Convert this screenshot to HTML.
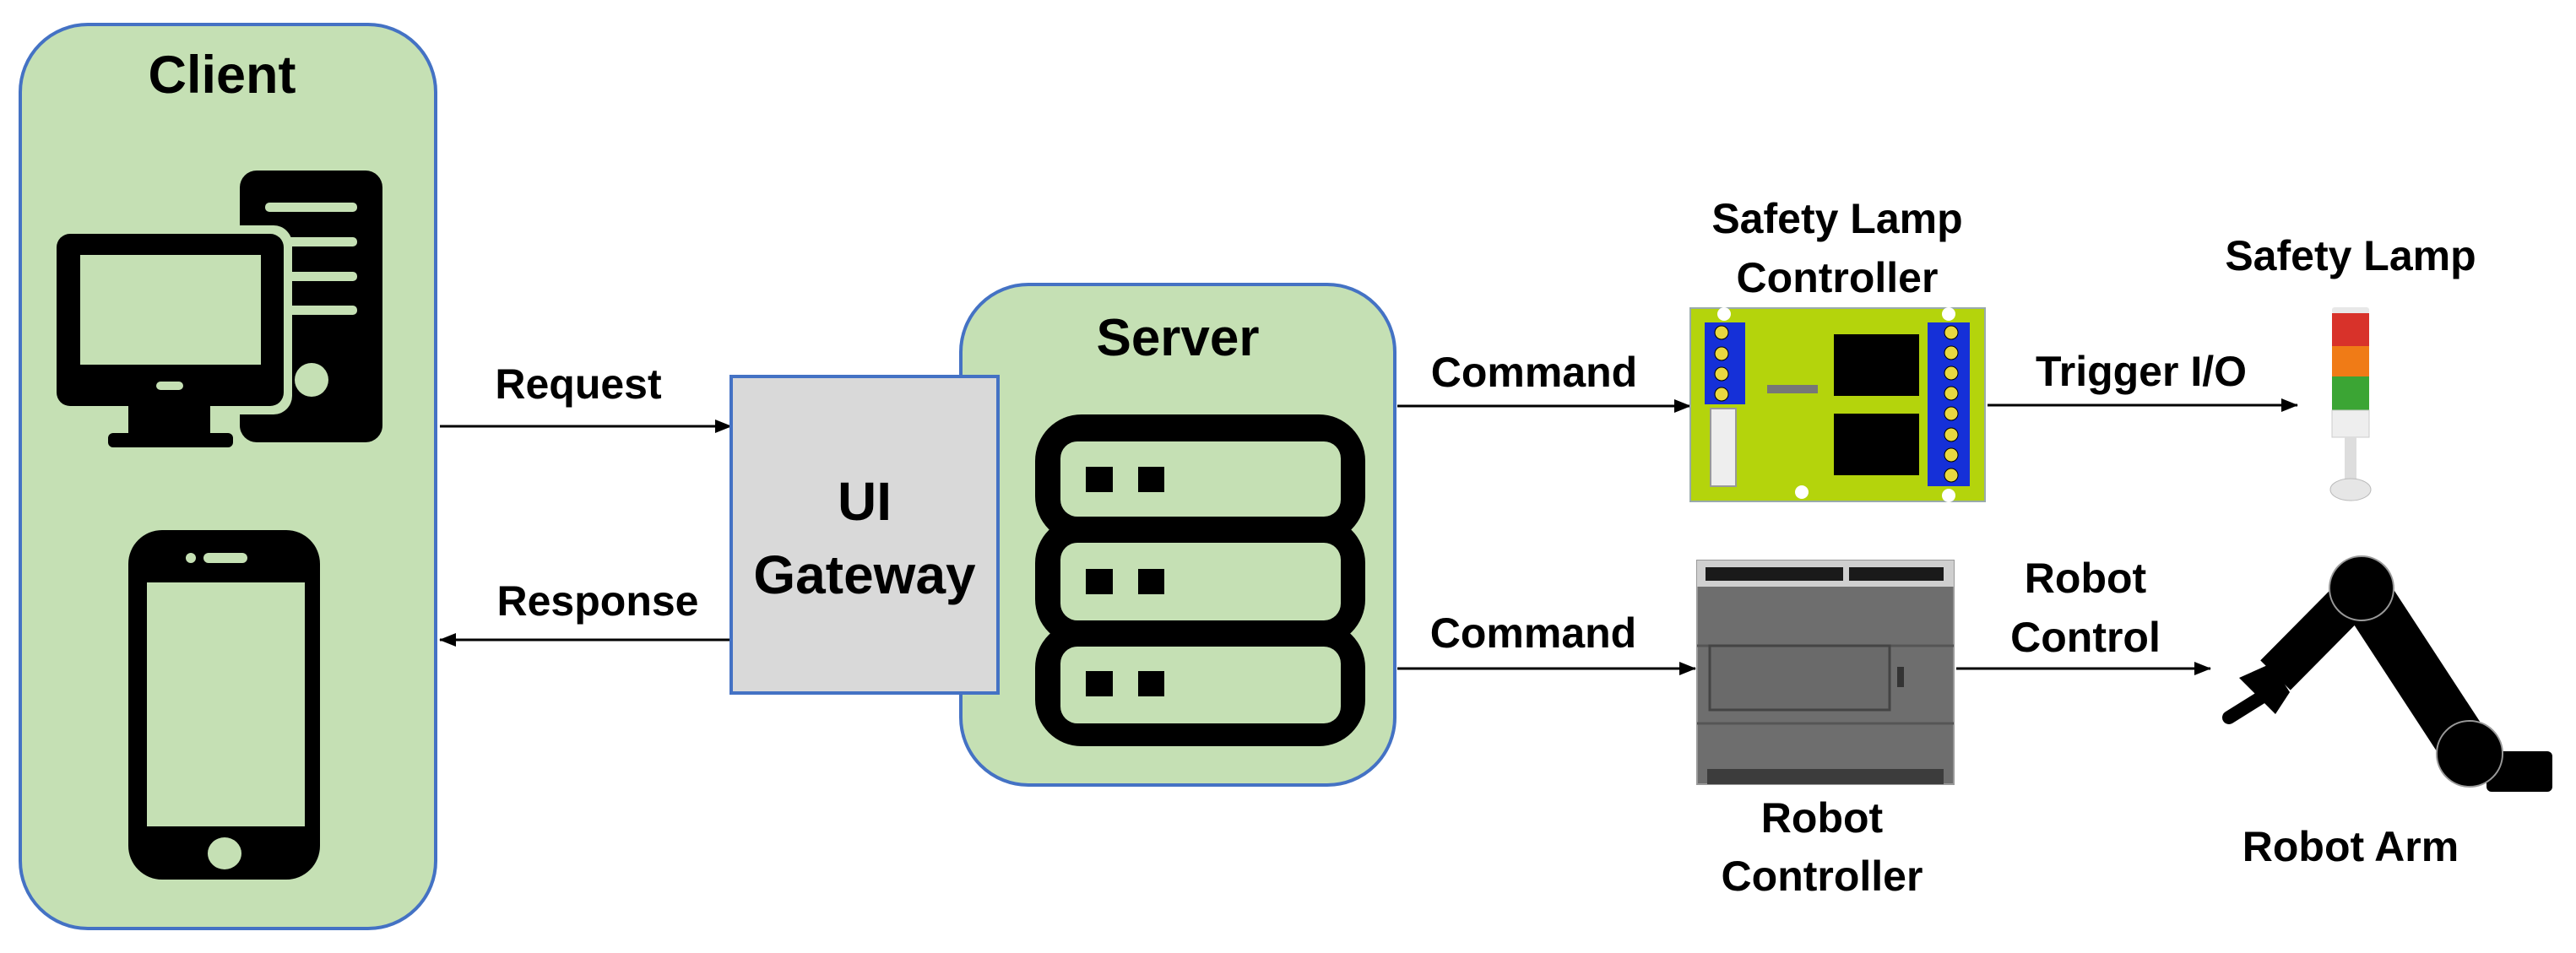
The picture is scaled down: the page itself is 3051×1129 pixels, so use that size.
<!DOCTYPE html>
<html><head><meta charset="utf-8"><style>
html,body{margin:0;padding:0;background:#fff;}
svg{display:block;}
text{font-family:"Liberation Sans",sans-serif;font-weight:bold;fill:#000;}
</style></head><body>
<svg width="3051" height="1129" viewBox="0 0 3051 1129" xmlns="http://www.w3.org/2000/svg">
<defs>
<marker id="ah2" markerWidth="20" markerHeight="20" refX="19" refY="8" orient="auto" markerUnits="userSpaceOnUse">
<path d="M0,0 L20,8 L0,16 Z" fill="#000"/></marker>
</defs>

<!-- Client -->
<rect x="24" y="29" width="492" height="1071" rx="80" fill="#c5e0b4" stroke="#4472c4" stroke-width="4"/>
<text x="263" y="110" font-size="63" text-anchor="middle">Client</text>
<!-- tower -->
<rect x="284" y="202" width="169" height="322" rx="20" fill="#000"/>
<rect x="314" y="240" width="109" height="11" rx="5" fill="#c5e0b4"/>
<rect x="314" y="281" width="109" height="11" rx="5" fill="#c5e0b4"/>
<rect x="314" y="322" width="109" height="11" rx="5" fill="#c5e0b4"/>
<rect x="314" y="362" width="109" height="11" rx="5" fill="#c5e0b4"/>
<ellipse cx="369" cy="450" rx="20" ry="20" fill="#c5e0b4"/>
<!-- monitor -->
<rect x="57" y="267" width="289" height="224" rx="22" fill="#c5e0b4"/>
<rect x="67" y="277" width="269" height="204" rx="16" fill="#000"/>
<rect x="95" y="302" width="214" height="130" fill="#c5e0b4"/>
<rect x="185" y="452" width="32" height="10" rx="5" fill="#c5e0b4"/>
<rect x="152" y="481" width="97" height="34" fill="#000"/>
<rect x="128" y="513" width="148" height="17" rx="6" fill="#000"/>
<!-- phone -->
<rect x="152" y="628" width="227" height="414" rx="40" fill="#000"/>
<rect x="174" y="690" width="187" height="289" fill="#c5e0b4"/>
<rect x="241" y="655" width="52" height="12" rx="6" fill="#c5e0b4"/>
<circle cx="226" cy="661" r="6" fill="#c5e0b4"/>
<ellipse cx="266" cy="1011" rx="20" ry="19" fill="#c5e0b4"/>

<!-- Request / Response -->
<line x1="521" y1="505" x2="866" y2="505" stroke="#000" stroke-width="3" marker-end="url(#ah2)"/>
<text x="685" y="472" font-size="50" text-anchor="middle">Request</text>
<line x1="866" y1="758" x2="521" y2="758" stroke="#000" stroke-width="3" marker-end="url(#ah2)"/>
<text x="708" y="729" font-size="50" text-anchor="middle">Response</text>

<!-- Server -->
<rect x="1138" y="337" width="514" height="593" rx="80" fill="#c5e0b4" stroke="#4472c4" stroke-width="4"/>
<text x="1395" y="421" font-size="62" text-anchor="middle">Server</text>
<rect x="1226" y="491" width="391" height="152" rx="55" fill="#000"/>
<rect x="1226" y="612" width="391" height="153" rx="55" fill="#000"/>
<rect x="1226" y="736" width="391" height="148" rx="55" fill="#000"/>
<rect x="1256" y="523" width="332" height="89" rx="20" fill="#c5e0b4"/>
<rect x="1256" y="643" width="332" height="92" rx="20" fill="#c5e0b4"/>
<rect x="1256" y="766" width="332" height="91" rx="20" fill="#c5e0b4"/>
<rect x="1286" y="553" width="32" height="30" fill="#000"/>
<rect x="1348" y="553" width="31" height="30" fill="#000"/>
<rect x="1286" y="674" width="32" height="30" fill="#000"/>
<rect x="1348" y="674" width="31" height="30" fill="#000"/>
<rect x="1286" y="795" width="32" height="30" fill="#000"/>
<rect x="1348" y="795" width="31" height="30" fill="#000"/>

<!-- UI Gateway -->
<rect x="866" y="446" width="316" height="375" fill="#d9d9d9" stroke="#4472c4" stroke-width="4"/>
<text x="1024" y="616" font-size="64" text-anchor="middle">UI</text>
<text x="1024" y="703" font-size="64" text-anchor="middle">Gateway</text>

<!-- Commands -->
<line x1="1655" y1="481" x2="2002" y2="481" stroke="#000" stroke-width="3" marker-end="url(#ah2)"/>
<text x="1817" y="458" font-size="50" text-anchor="middle">Command</text>
<line x1="1655" y1="792" x2="2008" y2="792" stroke="#000" stroke-width="3" marker-end="url(#ah2)"/>
<text x="1816" y="767" font-size="50" text-anchor="middle">Command</text>

<!-- Safety lamp controller board -->
<text x="2176" y="276" font-size="50" text-anchor="middle">Safety Lamp</text>
<text x="2176" y="346" font-size="50" text-anchor="middle">Controller</text>
<rect x="2002" y="365" width="349" height="229" fill="#b4d40c" stroke="#9aa" stroke-width="2"/>
<rect x="2019" y="382" width="48" height="97" fill="#1530d8"/>
<rect x="2283" y="382" width="50" height="194" fill="#1530d8"/>
<g fill="#e8d840" stroke="#000" stroke-width="1">
<circle cx="2039" cy="394" r="8"/><circle cx="2039" cy="419" r="8"/><circle cx="2039" cy="443" r="8"/><circle cx="2039" cy="467" r="8"/>
<circle cx="2311" cy="394" r="8"/><circle cx="2311" cy="418" r="8"/><circle cx="2311" cy="442" r="8"/><circle cx="2311" cy="466" r="8"/><circle cx="2311" cy="490" r="8"/><circle cx="2311" cy="515" r="8"/><circle cx="2311" cy="539" r="8"/><circle cx="2311" cy="563" r="8"/>
</g>
<rect x="2172" y="396" width="101" height="73" fill="#000"/>
<rect x="2172" y="490" width="101" height="73" fill="#000"/>
<rect x="2093" y="456" width="60" height="10" fill="#777"/>
<rect x="2026" y="484" width="30" height="92" fill="#eee" stroke="#999" stroke-width="2"/>
<g fill="#fff"><circle cx="2042" cy="372" r="8"/><circle cx="2308" cy="372" r="8"/><circle cx="2134" cy="583" r="8"/><circle cx="2308" cy="587" r="8"/></g>

<!-- Trigger I/O -->
<line x1="2354" y1="480" x2="2721" y2="480" stroke="#000" stroke-width="3" marker-end="url(#ah2)"/>
<text x="2536" y="457" font-size="50" text-anchor="middle">Trigger I/O</text>

<!-- Safety lamp -->
<text x="2784" y="320" font-size="50" text-anchor="middle">Safety Lamp</text>
<rect x="2762" y="364" width="44" height="8" rx="3" fill="#e8e8e8"/>
<rect x="2762" y="371" width="44" height="39" fill="#d8322a"/>
<rect x="2762" y="410" width="44" height="36" fill="#f07b16"/>
<rect x="2762" y="446" width="44" height="40" fill="#3ba534"/>
<rect x="2762" y="486" width="44" height="32" fill="#eeeeee" stroke="#ccc" stroke-width="1"/>
<rect x="2777" y="518" width="14" height="52" fill="#ddd"/>
<ellipse cx="2784" cy="580" rx="24" ry="13" fill="#e6e6e6" stroke="#bbb" stroke-width="1"/>

<!-- Robot controller -->
<rect x="2010" y="664" width="304" height="265" fill="#6e6e6e" stroke="#999" stroke-width="2"/>
<rect x="2010" y="664" width="304" height="31" fill="#cfcfcf"/>
<rect x="2020" y="672" width="163" height="16" fill="#1a1a1a"/>
<rect x="2190" y="672" width="112" height="16" fill="#1a1a1a"/>
<line x1="2010" y1="765" x2="2314" y2="765" stroke="#555" stroke-width="3"/>
<line x1="2010" y1="857" x2="2314" y2="857" stroke="#555" stroke-width="3"/>
<rect x="2025" y="765" width="213" height="76" fill="#6a6a6a" stroke="#444" stroke-width="3"/>
<rect x="2247" y="790" width="8" height="24" fill="#333"/>
<rect x="2022" y="911" width="280" height="18" fill="#3c3c3c"/>

<line x1="2317" y1="792" x2="2618" y2="792" stroke="#000" stroke-width="3" marker-end="url(#ah2)"/>
<text x="2470" y="702" font-size="50" text-anchor="middle">Robot</text>
<text x="2470" y="772" font-size="50" text-anchor="middle">Control</text>
<text x="2158" y="986" font-size="50" text-anchor="middle">Robot</text>
<text x="2158" y="1055" font-size="50" text-anchor="middle">Controller</text>

<!-- Robot arm -->
<rect x="2945" y="890" width="78" height="48" rx="6" fill="#000"/>
<line x1="2797" y1="697" x2="2925" y2="893" stroke="#000" stroke-width="62"/>
<line x1="2797" y1="697" x2="2695" y2="800" stroke="#000" stroke-width="50"/>
<path d="M2652,803 L2690,786 L2712,820 L2695,846 Z" fill="#000"/>
<line x1="2680" y1="825" x2="2640" y2="850" stroke="#000" stroke-width="16" stroke-linecap="round"/>
<circle cx="2925" cy="893" r="39" fill="#000" stroke="#999" stroke-width="2"/>
<circle cx="2797" cy="697" r="38" fill="#000" stroke="#999" stroke-width="2"/>
<text x="2784" y="1020" font-size="50" text-anchor="middle">Robot Arm</text>
</svg>
</body></html>
